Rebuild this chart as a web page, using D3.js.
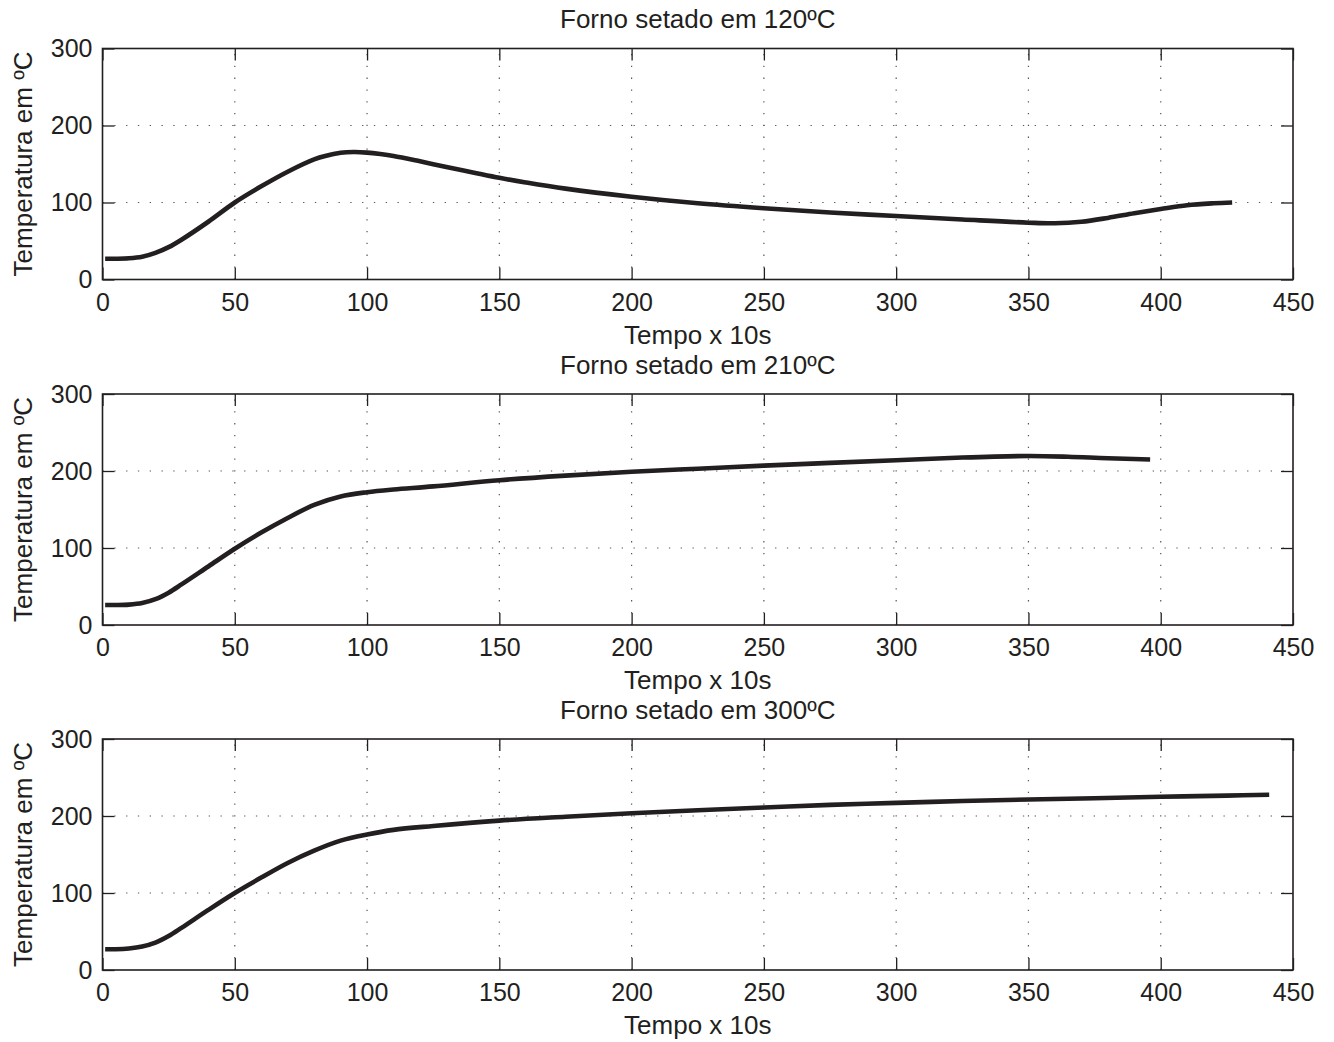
<!DOCTYPE html>
<html>
<head>
<meta charset="utf-8">
<script src="https://cdn.jsdelivr.net/npm/d3@7"></script>
<style>
    body { margin: 0; background: #fff; }
    svg text { font-family: "Liberation Sans", Arial, sans-serif; fill: #231f20; }
</style>
</head>
<body>
<div id="chart"></div>
<script>
// values (time in units of 10 s, temperature in ºC)
const time120 = [1, 5, 10, 15, 20, 25, 30, 40, 50, 60, 70, 80, 85, 90, 95, 100, 105, 110, 120, 130, 140, 150, 160, 175, 200, 225, 250, 275, 300, 325, 350, 360, 370, 380, 390, 400, 410, 420, 427];
const temp120 = [27, 27, 27.5, 29.5, 34.5, 42, 52, 75, 100, 121, 140, 156, 161, 164.5, 165.5, 164.8, 163, 160.5, 153.5, 146, 139, 132, 126, 118, 107.5, 99, 92.5, 87, 82.5, 78, 73.8, 73, 75, 80, 86, 91.5, 96.5, 99, 100];

const time210 = [1, 5, 10, 15, 20, 25, 30, 40, 50, 60, 70, 80, 90, 100, 110, 125, 150, 175, 200, 225, 250, 275, 300, 325, 350, 365, 380, 396];
const temp210 = [26, 26, 26.5, 28.5, 33.5, 42, 53, 76, 99, 120, 139, 156, 167, 172.5, 176, 180, 188, 194, 199, 203, 207, 210.5, 214, 217.5, 219.5, 218.5, 216.5, 215];

const time300 = [1, 5, 10, 15, 20, 25, 30, 40, 50, 60, 70, 80, 90, 100, 110, 125, 150, 175, 200, 225, 250, 275, 300, 325, 350, 375, 400, 425, 441];
const temp300 = [27, 27, 28, 30.5, 35.5, 44, 55, 78, 100, 120, 139, 155, 168, 176, 182, 187, 194, 199, 203.5, 207.5, 211, 214.5, 217, 219.5, 221.5, 223, 225, 226.5, 227.5];

const titles = ["Forno setado em 120ºC", "Forno setado em 210ºC", "Forno setado em 300ºC"];
const xTicks = [0, 50, 100, 150, 200, 250, 300, 350, 400, 450];
const yTicks = [0, 100, 200, 300];
const xLabel = "Tempo x 10s";
const yLabel = "Temperatura em ºC";

class LinePlot {

    constructor(_config, _times, _temps) {
        this.config = {
            svg: _config.svg,
            top: _config.top,
            left: _config.left || 102.5,
            width: _config.width || 1190.5,
            height: _config.height || 231,
            title: _config.title
        };
        this.data = _times.map((t, i) => ({ t: t, v: _temps[i] }));
        this.initVis();
        this.renderVis();
    }

    initVis() {
        let vis = this;

        vis.chart = vis.config.svg.append('g')
            .attr('transform', `translate(${vis.config.left},${vis.config.top})`);

        vis.xScale = d3.scaleLinear()
            .domain([0, 450])
            .range([0, vis.config.width]);

        vis.yScale = d3.scaleLinear()
            .domain([0, 300])
            .range([vis.config.height, 0]);
    }

    renderVis() {
        let vis = this;
        const w = vis.config.width, h = vis.config.height;
        const ink = '#231f20';

        // dotted grid
        vis.chart.append('g').selectAll('line.gx')
            .data(xTicks.slice(1, -1))
            .enter().append('line')
            .attr('x1', d => vis.xScale(d)).attr('x2', d => vis.xScale(d))
            .attr('y1', h).attr('y2', 0)
            .attr('stroke', '#555').attr('stroke-width', 1.2)
            .attr('stroke-dasharray', '1.3,10.5');

        vis.chart.append('g').selectAll('line.gy')
            .data(yTicks.slice(1, -1))
            .enter().append('line')
            .attr('x1', 0).attr('x2', w)
            .attr('y1', d => vis.yScale(d)).attr('y2', d => vis.yScale(d))
            .attr('stroke', '#555').attr('stroke-width', 1.2)
            .attr('stroke-dasharray', '1.3,10.5');

        // axes with inward ticks on every side
        const xBottom = d3.axisBottom(vis.xScale).tickValues(xTicks).tickSize(-12).tickSizeOuter(0).tickPadding(13.6);
        const xTop = d3.axisTop(vis.xScale).tickValues(xTicks).tickSize(-12).tickSizeOuter(0).tickFormat('');
        const yLeft = d3.axisLeft(vis.yScale).tickValues(yTicks).tickSize(-12).tickSizeOuter(0).tickPadding(10);
        const yRight = d3.axisRight(vis.yScale).tickValues(yTicks).tickSize(-12).tickSizeOuter(0).tickFormat('');

        const axes = [
            vis.chart.append('g').attr('transform', `translate(0,${h})`).call(xBottom),
            vis.chart.append('g').call(xTop),
            vis.chart.append('g').call(yLeft),
            vis.chart.append('g').attr('transform', `translate(${w},0)`).call(yRight)
        ];
        axes.forEach(g => {
            g.select('.domain').remove();
            g.selectAll('.tick line').attr('stroke', ink).attr('stroke-width', 1.3);
            g.selectAll('.tick text').attr('fill', ink).style('font-size', '25px')
                .style('font-family', '"Liberation Sans", Arial, sans-serif');
        });

        vis.chart.append('rect')
            .attr('width', w).attr('height', h)
            .attr('fill', 'none').attr('stroke', ink).attr('stroke-width', 1.6);

        // temperature curve
        const line = d3.line()
            .x(d => vis.xScale(d.t))
            .y(d => vis.yScale(d.v))
            .curve(d3.curveCatmullRom.alpha(0.5));

        vis.chart.append('path')
            .datum(vis.data)
            .attr('fill', 'none')
            .attr('stroke', ink)
            .attr('stroke-width', 4.6)
            .attr('d', line);

        // texts
        vis.chart.append('text')
            .attr('x', w / 2).attr('y', -20.5)
            .attr('text-anchor', 'middle')
            .style('font-size', '26px')
            .text(vis.config.title);

        vis.chart.append('text')
            .attr('x', w / 2).attr('y', h + 64)
            .attr('text-anchor', 'middle')
            .style('font-size', '26px')
            .text(xLabel);

        vis.chart.append('text')
            .attr('transform', `translate(${32 - vis.config.left},${h / 2}) rotate(-90)`)
            .attr('text-anchor', 'middle')
            .style('font-size', '26px')
            .text(yLabel);
    }
}

const svg = d3.select('#chart').append('svg')
    .attr('width', 1334)
    .attr('height', 1042);

const tops = [48.5, 394, 739];
const series = [[time120, temp120], [time210, temp210], [time300, temp300]];

series.forEach((s, i) => {
    new LinePlot({ svg: svg, top: tops[i], title: titles[i] }, s[0], s[1]);
});
</script>
</body>
</html>
